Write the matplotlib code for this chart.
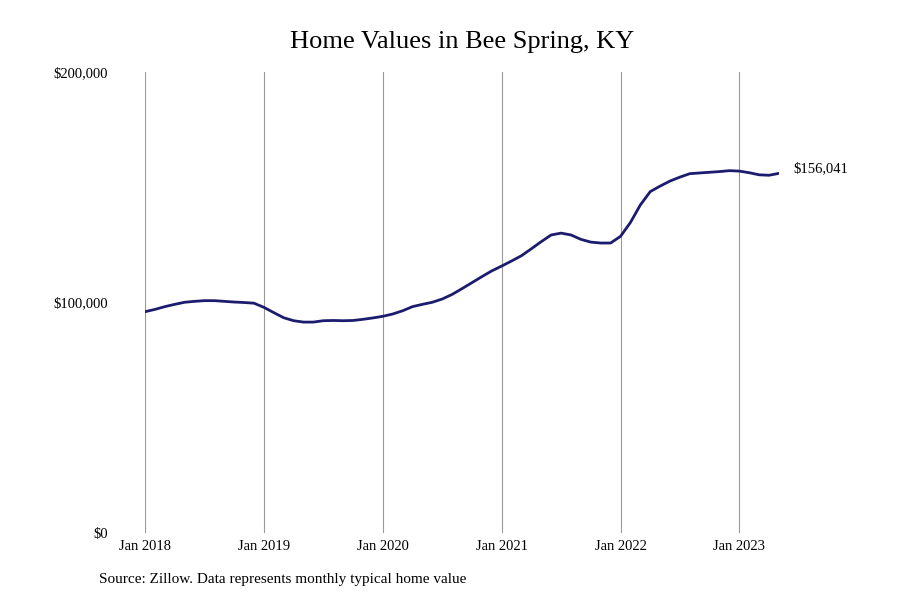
import matplotlib
matplotlib.use("Agg")
import matplotlib.pyplot as plt
import numpy as np

plt.rcParams['font.family'] = ['Liberation Serif', 'DejaVu Serif']

# monthly typical home value, Jan 2018 .. May 2023
values = [
    96000, 97000, 98200, 99200, 100100, 100500, 100800, 100800, 100500, 100200, 100000, 99700,
    97900, 95600, 93400, 92100, 91500, 91500, 92100, 92200, 92100, 92200, 92700, 93300,
    94000, 95000, 96400, 98200, 99200, 100100, 101500, 103500, 106000, 108600, 111200, 113700,
    115800, 118000, 120300, 123300, 126400, 129300, 130100, 129300, 127400, 126200, 125800, 125800,
    128700, 134700, 142300, 148100, 150500, 152700, 154400, 155900, 156200, 156500, 156800, 157200,
    157000, 156300, 155400, 155200, 156041,
]
tick_labels = ['Jan 2018', 'Jan 2019', 'Jan 2020', 'Jan 2021', 'Jan 2022', 'Jan 2023']
y_ticks = [0, 100000, 200000]
y_labels = ['$0', '$100,000', '$200,000']

months = np.arange(len(values))

fig = plt.figure(figsize=(9, 6), dpi=100)
ax = fig.add_axes([145 / 900, 1 - 533 / 600, (779 - 145) / 900, (533 - 72) / 600])

ax.plot(months, values, color='#1c1c6e', linewidth=2.0, solid_capstyle='round', zorder=3)

ax.set_xlim(0, len(values) - 1)
ax.set_ylim(0, 200000)
ax.set_xticks(np.arange(len(tick_labels)) * 12)
ax.set_xticklabels(tick_labels, fontsize=10.5)
ax.set_yticks(y_ticks)
ax.set_yticklabels(y_labels, fontsize=10.5)
ax.tick_params(axis='both', length=0)
ax.tick_params(axis='x', pad=5)
ax.tick_params(axis='y', pad=27)
for s in ax.spines.values():
    s.set_visible(False)
ax.grid(True, axis='x', color='#999999', linewidth=0.8)
ax.set_axisbelow(True)

ax.annotate('$156,041', xy=(months[-1], values[-1]), xytext=(10, 3),
            textcoords='offset points', fontsize=10.5, va='center', ha='left')

fig.text(462 / 900, 1 - 42 / 600, 'Home Values in Bee Spring, KY', fontsize=19,
         ha='center', va='center')
fig.text(99 / 900, 1 - 580 / 600, 'Source: Zillow. Data represents monthly typical home value',
         fontsize=11, ha='left', va='center')

fig.savefig('out.png', dpi=100)
